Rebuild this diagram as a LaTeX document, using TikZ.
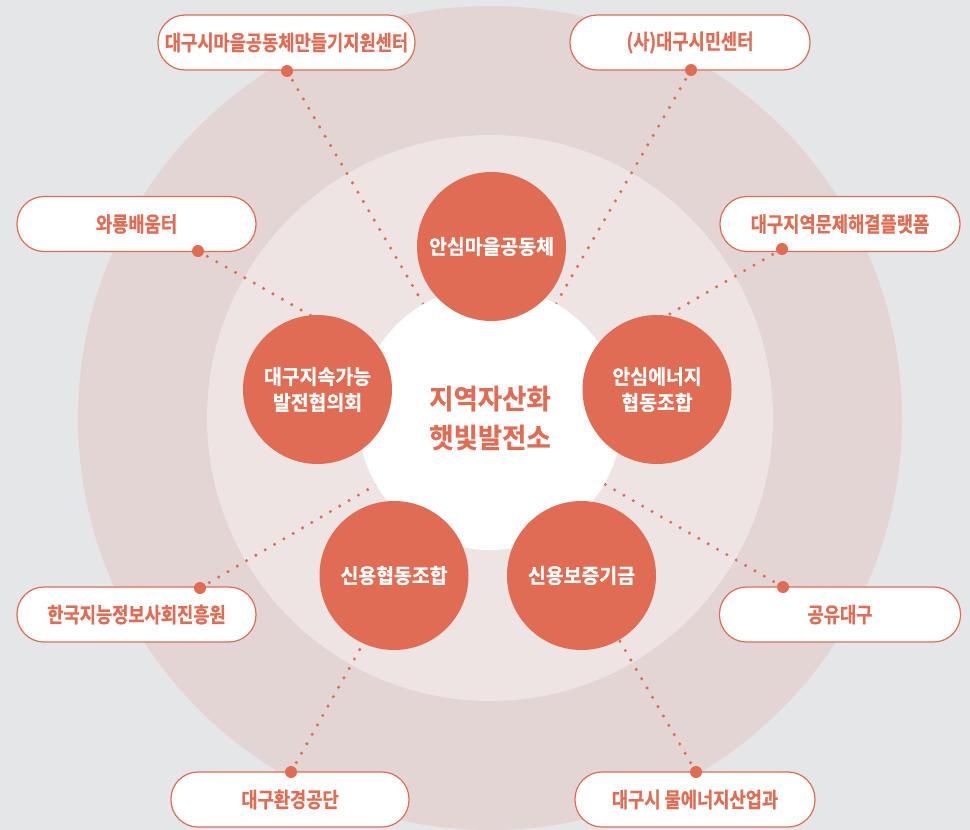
\documentclass[tikz,border=0pt]{standalone}
\usepackage{fontspec}
\setmainfont{Noto Sans CJK KR}[BoldFont={Noto Sans CJK KR Bold}]
\newfontfamily\pillfont{Noto Sans CJK KR Bold}[FakeStretch=0.84,FakeBold=0.8]
\newfontfamily\circfont{Noto Sans CJK KR Bold}[FakeStretch=0.95,FakeBold=0.8]
\newfontfamily\centfont{Noto Sans CJK KR Bold}[FakeStretch=0.96,FakeBold=0.8]
\definecolor{bgc}{HTML}{E5E6E8}
\definecolor{outerc}{HTML}{E3D5D3}
\definecolor{midc}{HTML}{EDE4E3}
\definecolor{orc}{HTML}{E06C53}
\begin{document}
\begin{tikzpicture}[x=1pt,y=-1pt,
  pill/.style={draw=orc,line width=1.2pt,fill=white,rounded corners=27pt,minimum width=240pt,minimum height=55pt,inner sep=0pt,text=orc,font=\pillfont\fontsize{21}{24}\selectfont},
  org/.style={circle,fill=orc,minimum size=149pt,inner sep=0pt,text=white,align=center,font=\circfont\fontsize{20.4}{26}\selectfont},
  bigdot/.style={circle,fill=orc,minimum size=12pt,inner sep=0pt},
  dotline/.style={draw=orc,line width=3.4pt,line cap=round,dash pattern=on 0pt off 10.8pt}]
\useasboundingbox (0,0) rectangle (970,830);
\fill[bgc] (0,0) rectangle (970,830);
\begin{scope}
\clip (0,0) rectangle (970,830);
\fill[outerc] (490,418) circle[radius=412];
\fill[midc] (490,418) circle[radius=283];
\end{scope}
\coordinate (c) at (490,418);
% pills
\node[pill,minimum width=257pt] (p1) at (286.5,42.5) {대구시마을공동체만들기지원센터};
\node[pill] (p2) at (690,42.5) {(사)대구시민센터};
\node[pill,minimum width=239pt] (p3) at (136.5,224) {와룡배움터};
\node[pill] (p4) at (840,224) {대구지역문제해결플랫폼};
\node[pill,minimum width=239pt] (p5) at (136.5,614.5) {한국지능정보사회진흥원};
\node[pill,minimum width=241pt] (p6) at (840,614.5) {공유대구};
\node[pill,minimum width=238pt] (p7) at (290,799.5) {대구환경공단};
\node[pill] (p8) at (695,799.5) {대구시 물에너지산업과};
% dots
\node[bigdot] (d1) at (287,71) {};
\node[bigdot] (d2) at (691,70) {};
\node[bigdot] (d3) at (198,251) {};
\node[bigdot] (d4) at (782,249) {};
\node[bigdot] (d5) at (200,588) {};
\node[bigdot] (d6) at (783,587) {};
\node[bigdot] (d7) at (291,772) {};
\node[bigdot] (d8) at (696,772) {};
% lines
\foreach \i in {1,...,8} {\draw[dotline] (d\i.center) -- (c);}
% white circle
\node[circle,fill=white,minimum size=264pt,inner sep=0pt,text=orc,align=center,font=\centfont\fontsize{27.5}{39}\selectfont] (center) at (c) {지역자산화\\햇빛발전소};
% orange circles
\node[org] (o1) at (491.5,246.5) {안심마을공동체};
\node[org] (o2) at (317.5,389.5) {대구지속가능\\발전협의회};
\node[org] (o3) at (657,389.5) {안심에너지\\협동조합};
\node[org] (o4) at (394,575.5) {신용협동조합};
\node[org] (o5) at (581.5,575.5) {신용보증기금};
\end{tikzpicture}
\end{document}
